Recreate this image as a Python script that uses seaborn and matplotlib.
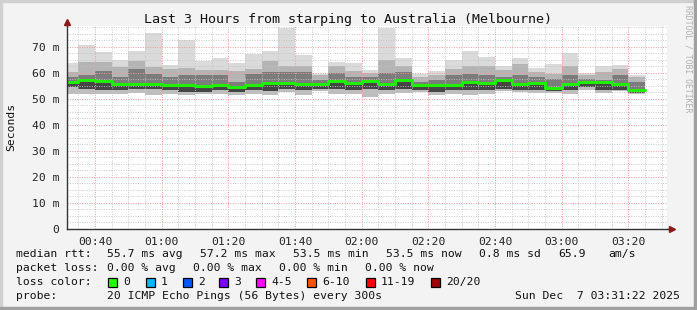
import matplotlib
matplotlib.use("Agg")
import matplotlib.pyplot as plt
from matplotlib.patches import Rectangle
import numpy as np
import pandas as pd
import seaborn as sns

# ---------------- data ----------------
bar_start = ["00:30", "00:35", "00:40", "00:45", "00:50", "00:55", "01:00", "01:05", "01:10", "01:15",
             "01:20", "01:25", "01:30", "01:35", "01:40", "01:45", "01:50", "01:55", "02:00", "02:05",
             "02:10", "02:15", "02:20", "02:25", "02:30", "02:35", "02:40", "02:45", "02:50", "02:55",
             "03:00", "03:05", "03:10", "03:15", "03:20"]
bar_end = "03:25"

ping_max = [63.9, 70.7, 68.0, 65.0, 68.3, 75.4, 63.1, 72.8, 64.5, 65.7,
            63.9, 67.3, 68.3, 77.2, 66.9, 59.6, 64.1, 63.9, 61.2, 77.3,
            65.7, 59.6, 60.5, 64.8, 68.2, 66.0, 62.6, 65.7, 61.9, 63.5,
            67.6, 60.0, 62.6, 63.1, 59.2]
ping_p90 = [60.3, 64.1, 64.1, 62.2, 64.4, 62.2, 61.5, 61.8, 60.9, 60.9,
            60.5, 61.5, 64.4, 62.6, 62.8, 59.0, 62.8, 60.5, 59.9, 64.8,
            62.8, 58.3, 59.0, 61.5, 62.8, 62.8, 60.9, 63.2, 60.3, 59.6,
            62.8, 59.0, 60.3, 61.5, 58.3]
ping_p75 = [58.3, 59.2, 60.5, 58.3, 61.5, 59.6, 58.3, 59.0, 59.0, 59.3,
            56.4, 59.6, 60.3, 60.3, 60.3, 57.1, 60.0, 58.5, 58.3, 59.8,
            60.3, 56.4, 57.1, 59.0, 59.6, 59.0, 58.3, 59.0, 58.3, 57.7,
            59.0, 57.5, 57.1, 59.0, 56.4]
median_rtt = [56.6, 57.1, 56.9, 55.8, 55.8, 55.8, 55.3, 55.3, 54.9, 55.2,
              54.5, 55.2, 56.2, 56.2, 55.6, 55.6, 56.8, 55.9, 56.8, 55.8,
              57.2, 55.2, 55.2, 55.2, 56.4, 56.0, 57.2, 55.6, 56.2, 54.2,
              55.8, 56.4, 56.4, 55.6, 53.5]
ping_p25 = [54.5, 53.8, 53.2, 53.2, 53.8, 53.8, 53.2, 52.6, 52.6, 53.2,
            52.6, 53.2, 52.8, 53.8, 53.2, 53.8, 53.8, 53.2, 53.8, 53.2,
            53.8, 53.2, 52.6, 53.2, 53.2, 53.2, 53.8, 53.2, 53.2, 52.8,
            53.2, 54.5, 53.2, 53.5, 52.2]
ping_min = [51.9, 51.9, 51.9, 51.9, 52.2, 51.4, 51.9, 51.4, 51.9, 51.9,
            51.5, 51.9, 51.5, 52.6, 51.5, 52.8, 51.9, 52.0, 50.7, 51.9,
            52.2, 52.6, 51.5, 51.9, 51.5, 51.9, 52.8, 52.6, 52.2, 52.2,
            51.9, 53.5, 52.2, 52.8, 51.9]

xtick_labels = ["00:40", "01:00", "01:20", "01:40", "02:00", "02:20", "02:40", "03:00", "03:20"]
ytick_values = [0, 10, 20, 30, 40, 50, 60, 70]
ytick_labels = ["0", "10 m", "20 m", "30 m", "40 m", "50 m", "60 m", "70 m"]

loss_labels = ["0", "1", "2", "3", "4-5", "6-10", "11-19", "20/20"]
loss_colors = ["#26ff00", "#00b8ff", "#0059ff", "#7e00ff", "#ff00ff", "#ff5500", "#ff0000", "#a10000"]

title = "Last 3 Hours from starping to Australia (Melbourne)"

# ---------------- helpers ----------------
def to_min(s):
    h, m = s.split(":")
    return int(h) * 60 + int(m)

x_edges = np.array([to_min(s) for s in bar_start] + [to_min(bar_end)], dtype=float)

def ext(a):
    return np.array(list(a) + [a[-1]], dtype=float)

df = pd.DataFrame({"t": x_edges, "median": ext(median_rtt)})

W, H = 697, 310
sns.set_theme(style="white")
plt.rcParams["font.family"] = ["DejaVu Sans Mono", "DejaVu Sans"]
MONO = 8.2

fig = plt.figure(figsize=(W / 100, H / 100), dpi=100, facecolor="#f3f3f3")

def fx(px):
    return px / W

def fy(py):
    return 1 - py / H

# border shades
fig.patches.append(Rectangle((0, fy(2)), 1, 2 / H, transform=fig.transFigure, color="#d0d0d0", zorder=0))
fig.patches.append(Rectangle((0, 0), 2 / W, 1, transform=fig.transFigure, color="#d0d0d0", zorder=0))
fig.patches.append(Rectangle((0, 0), 1, 3 / H, transform=fig.transFigure, color="#a0a0a0", zorder=0))
fig.patches.append(Rectangle((1 - 3 / W, 0), 3 / W, 1, transform=fig.transFigure, color="#a0a0a0", zorder=0))

x0, x1 = 67, 667
y_top, y_bot = 26, 228.7
ax = fig.add_axes([fx(x0), fy(y_bot), (x1 - x0) / W, (y_bot - y_top) / H])
ax.set_facecolor("white")

t_lo = to_min("00:40") - 8.4
ax.set_xlim(t_lo, t_lo + 180)
ax.set_ylim(0, 78)

# grid (drawn over the smoke, as RRDtool does)
ax.set_xticks([to_min(s) for s in xtick_labels])
ax.set_xticklabels(xtick_labels)
ax.set_xticks(np.arange(35, 215, 5), minor=True)
ax.set_yticks(ytick_values)
ax.set_yticklabels(ytick_labels)
ax.set_yticks(np.arange(0, 78, 2.5), minor=True)
ax.set_axisbelow(False)
ax.grid(which="minor", color="#c4c4c4", linestyle=(0, (1, 1.5)), linewidth=0.7, zorder=3, alpha=0.9)
ax.grid(which="major", color="#f09a9a", linestyle=(0, (1, 1.5)), linewidth=0.7, zorder=3)

# smoke
kw = dict(step="post", linewidth=0, zorder=2)
ax.fill_between(x_edges, ext(ping_min), ext(ping_max), color="#dadada", **kw)
ax.fill_between(x_edges, ext(ping_min), ext(ping_p90), color="#b4b4b4", **kw)
ax.fill_between(x_edges, ext(median_rtt), ext(ping_p75), color="#7c7c7c", **kw)
ax.fill_between(x_edges, ext(ping_p25), ext(median_rtt), color="#454545", **kw)
ax.fill_between(x_edges, ext(ping_min), ext(ping_p25), color="#bdbdbd", **kw)

sns.lineplot(data=df, x="t", y="median", drawstyle="steps-post", color="#20f000",
             linewidth=2.2, ax=ax, zorder=4)

ax.set_xlabel("")
ax.set_ylabel("")
for s in ["top", "right"]:
    ax.spines[s].set_visible(False)
for s in ["left", "bottom"]:
    ax.spines[s].set_color("#333333")
    ax.spines[s].set_linewidth(1.0)
    ax.spines[s].set_zorder(5)
ax.tick_params(axis="both", which="major", length=3, width=0.8, color="#333333",
               labelsize=MONO, labelcolor="#222222", direction="out")
ax.tick_params(axis="y", which="major", pad=2.5)
ax.tick_params(axis="x", which="major", pad=3)
ax.tick_params(axis="both", which="minor", length=0)

# axis arrows
ax.plot([0], [1.0 + 4 / (y_bot - y_top)], marker="^", markersize=5, color="#8b1a1a",
        transform=ax.transAxes, clip_on=False, zorder=6)
ax.plot([0, 0], [1.0, 1.0 + 3 / (y_bot - y_top)], color="#333333", lw=1,
        transform=ax.transAxes, clip_on=False)
ax.plot([1, 1 + 4 / (x1 - x0)], [0, 0], color="#333333", lw=1,
        transform=ax.transAxes, clip_on=False)
ax.plot([1.0 + 5 / (x1 - x0)], [0], marker=">", markersize=5, color="#8b1a1a",
        transform=ax.transAxes, clip_on=False, zorder=6)

# title and labels
fig.text(fx(347.5), fy(19), title, ha="center", va="center", fontsize=9.6, color="#111111")
fig.text(fx(11), fy(127), "Seconds", rotation=90, ha="center", va="center", fontsize=MONO, color="#111111")
fig.text(fx(688), fy(5), "RRDTOOL / TOBI OETIKER", rotation=270, ha="center", va="top",
         fontsize=5.9, color="#b0b0b0")

def t(px, py, s, **k):
    fig.text(fx(px), fy(py), s, ha=k.pop("ha", "left"), va="center", fontsize=MONO, color="#111111", **k)

# legend line 1
t(16, 254, "median rtt:")
t(107, 254, "55.7 ms avg")
t(200, 254, "57.2 ms max")
t(293, 254, "53.5 ms min")
t(386, 254, "53.5 ms now")
t(479, 254, "0.8 ms sd")
t(558, 254, "65.9")
t(608, 254, "am/s")
# line 2
t(16, 268, "packet loss:")
t(107, 268, "0.00 % avg")
t(193, 268, "0.00 % max")
t(279, 268, "0.00 % min")
t(365, 268, "0.00 % now")
# line 3
t(16, 282, "loss color:")
box_x = [108, 146, 183, 219, 256, 307, 366, 431]
for bx, lab, col in zip(box_x, loss_labels, loss_colors):
    fig.patches.append(Rectangle((fx(bx), fy(286.5)), 9 / W, 9 / H, transform=fig.transFigure,
                                 facecolor=col, edgecolor="black", linewidth=0.9, zorder=3))
    t(bx + 15, 282, lab)
# line 4
t(16, 296, "probe:")
t(107, 296, "20 ICMP Echo Pings (56 Bytes) every 300s")
t(680, 296, "Sun Dec  7 03:31:22 2025", ha="right")

fig.savefig("out.png", dpi=100, facecolor=fig.get_facecolor())
